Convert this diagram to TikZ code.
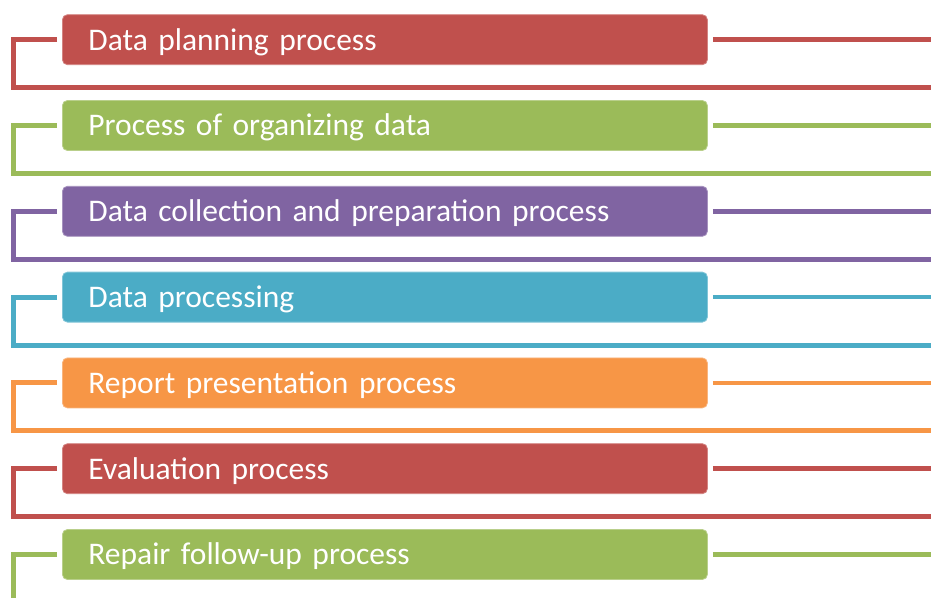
\documentclass[tikz,border=0pt]{standalone}
\usepackage{fontspec}
\setmainfont{Carlito}
\definecolor{cred}{HTML}{C0504D}
\definecolor{cgreen}{HTML}{9BBB59}
\definecolor{cpurple}{HTML}{8064A2}
\definecolor{cteal}{HTML}{4BACC6}
\definecolor{corange}{HTML}{F79646}
\begin{document}
\begin{tikzpicture}[x=1pt,y=-1pt,
  stepbox/.style={rounded corners=5pt, fill=#1, draw=#1!70!white, line width=0.8pt,
    minimum width=645pt, minimum height=50pt, text width=593pt, inner xsep=26pt,
    align=left, text height=20.6pt, text depth=0pt, text=white,
    font=\fontsize{31.5}{36}\selectfont, anchor=west},
  leftconn/.style={draw=#1, line width=5pt},
  rightconn/.style={draw=#1, line width=4.7pt}]
\useasboundingbox (0,0) rectangle (931,597);
\clip (0,0) rectangle (931,597);
\foreach \i/\col/\txt in {1/cred/Data planning process,
  2/cgreen/Process of organizing data,
  3/cpurple/Data collection and preparation process,
  4/cteal/Data processing,
  5/corange/Report presentation process,
  6/cred/Evaluation process,
  7/cgreen/Repair follow-up process}{
  \pgfmathsetmacro\cy{39.7+85.8*(\i-1)}
  \node[stepbox=\col] (b\i) at (62,\cy) {\txt};
  \coordinate (k\i) at (13.8,\cy+48);
  \coordinate (e\i) at (931,\cy+48);
  \coordinate (r\i) at (931,\cy);
  \draw[leftconn=\col] ([xshift=-5pt]b\i.west) -| (k\i) -- (e\i);
  \draw[rightconn=\col] ([xshift=5pt]b\i.east) -- (r\i);
}
\end{tikzpicture}
\end{document}
